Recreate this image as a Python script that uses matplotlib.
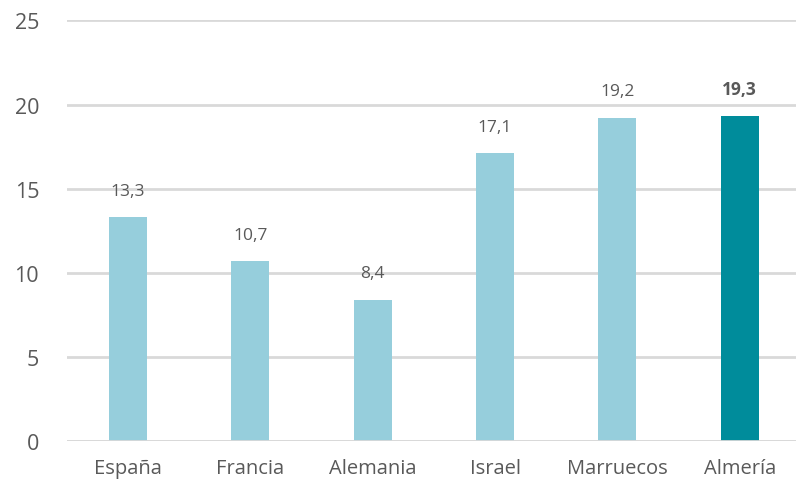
import matplotlib.pyplot as plt
import numpy as np

plt.rcParams['font.family'] = ['Open Sans', 'DejaVu Sans']

# data
paises = ['España', 'Francia', 'Alemania', 'Israel', 'Marruecos', 'Almería']
valores = [13.3, 10.7, 8.4, 17.1, 19.2, 19.3]
etiquetas = ['13,3', '10,7', '8,4', '17,1', '19,2', '19,3']
destacado = 'Almería'

claro = '#96CEDC'
oscuro = '#008C9B'
gris = '#595959'

fig, ax = plt.subplots(figsize=(7.96, 4.85), dpi=100)
fig.subplots_adjust(left=0.084, right=1.0, top=0.956, bottom=0.088)

x = np.arange(len(paises))
colores = [oscuro if p == destacado else claro for p in paises]
ax.bar(x, valores, width=0.31, color=colores, zorder=2)

for xi, v, lab, p in zip(x, valores, etiquetas, paises):
    ax.text(xi, v + 1.1, lab, ha='center', va='bottom', fontsize=12.5, color=gris,
            fontweight='bold' if p == destacado else 'normal')

ax.set_xlim(-0.5, len(paises) - 0.54)
ax.set_ylim(0, 25)
ax.set_yticks([0, 5, 10, 15, 20, 25])
ax.set_xticks(x)
ax.set_xticklabels(paises)
ax.yaxis.grid(True, color='#D9D9D9', linewidth=2, zorder=0)
ax.set_axisbelow(True)
# baseline over the bars
ax.axhline(0, color='#D9D9D9', linewidth=2, zorder=3)
ax.tick_params(axis='both', length=0, colors=gris)
ax.tick_params(axis='y', pad=20, labelsize=15.5)
ax.tick_params(axis='x', pad=12, labelsize=14.5)
for s in ax.spines.values():
    s.set_visible(False)

plt.savefig('out.png')
